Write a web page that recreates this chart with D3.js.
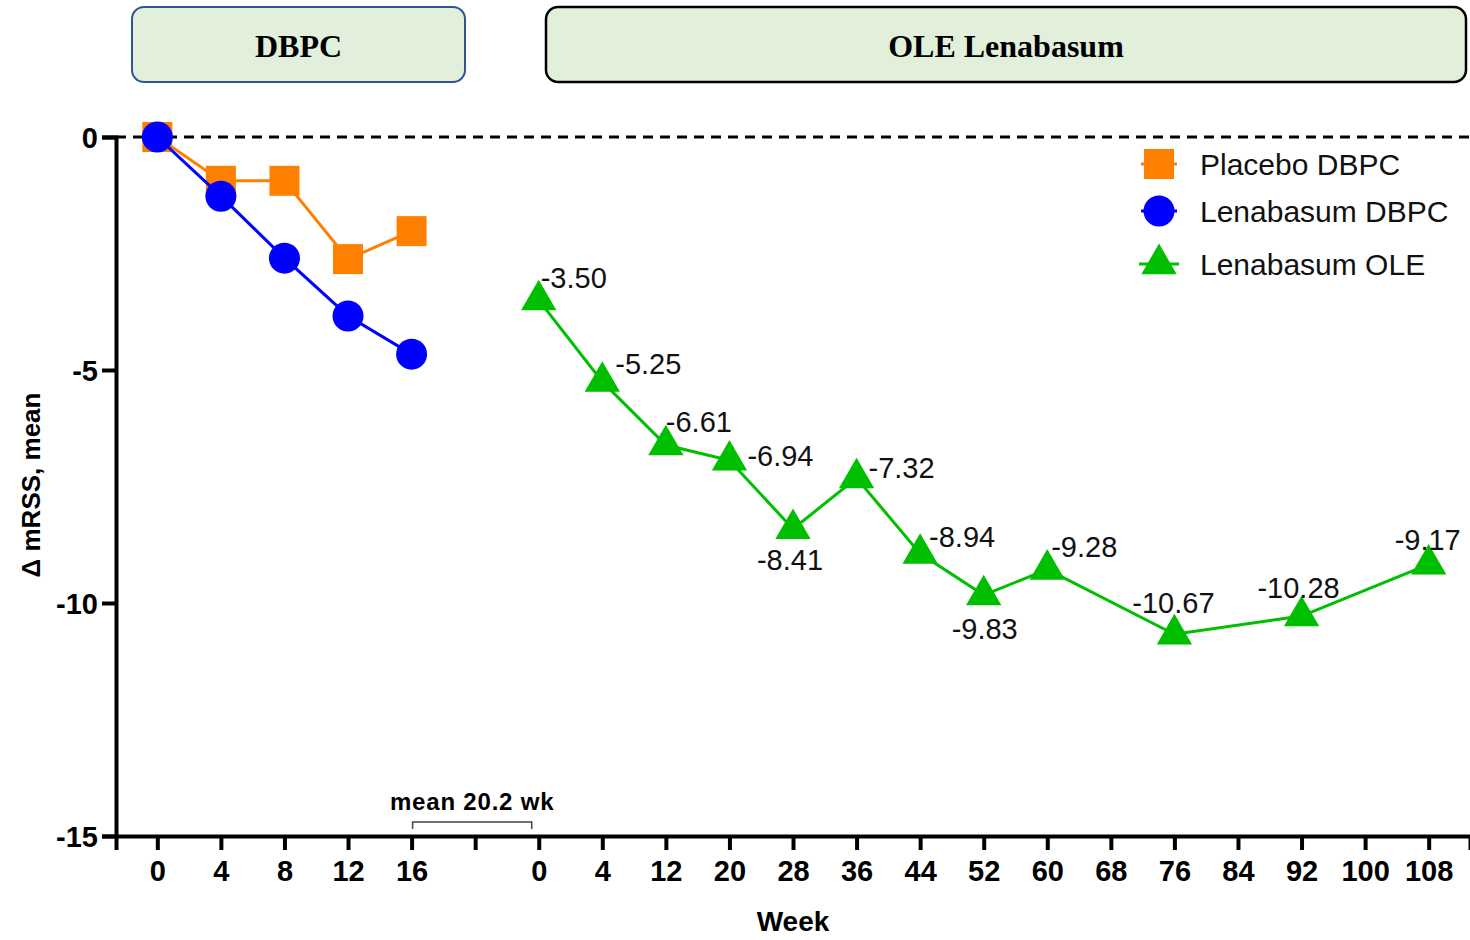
<!DOCTYPE html>
<html>
<head>
<meta charset="utf-8">
<script src="https://cdn.jsdelivr.net/npm/d3@7"></script>
<style>
  html, body { margin:0; padding:0; background:#fff; }
  svg { display:block; }
  .tick text { font-family: "Liberation Sans Narrow", "Liberation Sans", Arial, sans-serif; font-weight:bold; font-size:29px; fill:#000; }
  .lbl { font-family: "Liberation Sans", Arial, sans-serif; font-size:29px; fill:#111; }
  .leg { font-family: "Liberation Sans", Arial, sans-serif; font-size:30px; fill:#111; }
</style>
</head>
<body>
<div id="chart"></div>
<script>
/* mRSS change from baseline: DBPC phase then OLE lenabasum.
   x positions are categorical (one slot per tick), y is mean change. */

/* ---- data ---- */
const DBPC_WEEKS  = [0, 4, 8, 12, 16];
const PLACEBO     = [0, -0.94, -0.94, -2.62, -2.02];
const LENA_DBPC   = [0, -1.27, -2.60, -3.84, -4.66];
const OLE_WEEKS   = [0, 4, 12, 20, 28, 36, 44, 52, 60, 76, 92, 108];
const LENA_OLE    = [-3.50, -5.25, -6.61, -6.94, -8.41, -7.32, -8.94, -9.83, -9.28, -10.67, -10.28, -9.17];
const OLE_TICKS   = [0, 4, 12, 20, 28, 36, 44, 52, 60, 68, 76, 84, 92, 100, 108];
const Y_TICKS     = [0, -5, -10, -15];
const SERIES_NAMES = ["Placebo DBPC", "Lenabasum DBPC", "Lenabasum OLE"];

/* label offsets for OLE values (style only) */
const LABEL_OFF = [[35,-22],[46,-18],[33,-23],[51,-5],[-3,31],[45,-10],[42,-17],[1,34],[37,-23],[-1,-31],[-3,-28],[-1,-24]];

const W = 1470, H = 940;
const COL = { placebo:"#ff8000", lena:"#0000ff", ole:"#00bf00" };

/* categorical domain: DBPC weeks, one gap slot, then OLE weeks */
const KEYS = [...DBPC_WEEKS.map(w => "D"+w), "gap", ...OLE_TICKS.map(w => "O"+w)];
const tickLabel = k => k === "gap" ? "" : k.slice(1);

const x = d3.scalePoint().domain(KEYS).range([116, 1470]).padding(0.65);
const y = d3.scaleLinear().domain([-15, 0]).range([836, 137]);

const svg = d3.select("#chart").append("svg").attr("width", W).attr("height", H);

/* phase header boxes */
const headers = [
  {x:132, w:333, text:"DBPC", stroke:"#2f5597", sw:2},
  {x:546, w:920, text:"OLE Lenabasum", stroke:"#000", sw:2.5}
];
const hg = svg.selectAll("g.hdr").data(headers).enter().append("g").attr("class","hdr");
hg.append("rect").attr("x",d=>d.x).attr("y",7).attr("width",d=>d.w).attr("height",75)
  .attr("rx",12).attr("fill","#e2efda").attr("stroke",d=>d.stroke).attr("stroke-width",d=>d.sw);
hg.append("text").attr("x",d=>d.x+d.w/2).attr("y",57).attr("text-anchor","middle")
  .attr("font-family","'Liberation Serif','Times New Roman',serif").attr("font-weight","bold")
  .attr("font-size",32).text(d=>d.text);

/* reference line at 0 */
svg.append("line").attr("x1",116).attr("x2",1470).attr("y1",y(0)).attr("y2",y(0))
  .attr("stroke","#000").attr("stroke-width",3).attr("stroke-dasharray","10,7");

/* axes */
const xAxis = svg.append("g").attr("transform",`translate(0,${y(-15)})`)
  .call(d3.axisBottom(x).tickFormat(tickLabel).tickSizeOuter(0).tickSize(14).tickPadding(10));
const yAxis = svg.append("g").attr("transform",`translate(116,0)`)
  .call(d3.axisLeft(y).tickValues(Y_TICKS).tickFormat(d => String(d)).tickSizeOuter(0).tickSize(14).tickPadding(4));
[xAxis, yAxis].forEach(g => {
  g.select(".domain").attr("stroke","#000").attr("stroke-width",4);
  g.selectAll(".tick line").attr("stroke","#000").attr("stroke-width",4);
});
yAxis.selectAll(".tick text").attr("dy","0.36em");

/* axis titles */
svg.append("text").attr("x",793).attr("y",931).attr("text-anchor","middle")
  .attr("font-family","'Liberation Sans',Arial,sans-serif").attr("font-weight","bold").attr("font-size",28)
  .text("Week");
svg.append("text").attr("transform","translate(40,485) rotate(-90)").attr("text-anchor","middle")
  .attr("font-family","'Liberation Sans',Arial,sans-serif").attr("font-weight","bold").attr("font-size",26)
  .text("\u0394 mRSS, mean");

/* bracket for mean gap between phases */
const bx0 = x("D16") + 1, bx1 = x("O0") - 7;
svg.append("path").attr("d",`M${bx0},829V822H${bx1}V829`).attr("fill","none")
  .attr("stroke","#444").attr("stroke-width",1.5);
svg.append("text").attr("x",(bx0+bx1)/2).attr("y",810).attr("text-anchor","middle")
  .attr("font-family","'Liberation Sans',Arial,sans-serif").attr("font-weight","bold").attr("font-size",24)
  .attr("letter-spacing",0.8).text("mean 20.2 wk");

/* series */
const line = d3.line().x(d=>d.x).y(d=>d.y);
const placebo = DBPC_WEEKS.map((w,i)=>({x:x("D"+w), y:y(PLACEBO[i])}));
const lena    = DBPC_WEEKS.map((w,i)=>({x:x("D"+w), y:y(LENA_DBPC[i])}));
const ole     = OLE_WEEKS.map((w,i)=>({x:x("O"+w), y:y(LENA_OLE[i]), v:LENA_OLE[i], off:LABEL_OFF[i]}));

const symSquare = d3.symbol().type(d3.symbolSquare).size(900);
const symCircle = d3.symbol().type(d3.symbolCircle).size(Math.PI*15.5*15.5);
const symTri    = d3.symbol().type(d3.symbolTriangle).size(540);

function drawSeries(pts, color, sym){
  svg.append("path").datum(pts).attr("d",line).attr("fill","none").attr("stroke",color).attr("stroke-width",3);
  svg.append("g").selectAll("path").data(pts).enter().append("path")
    .attr("transform",d=>`translate(${d.x},${d.y})`).attr("d",sym).attr("fill",color);
}
drawSeries(placebo, COL.placebo, symSquare);
drawSeries(lena, COL.lena, symCircle);
drawSeries(ole, COL.ole, symTri);

/* value labels on OLE */
svg.append("g").selectAll("text").data(ole).enter().append("text").attr("class","lbl")
  .attr("x",d=>d.x+d.off[0]).attr("y",d=>d.y+d.off[1]).attr("dy","0.35em")
  .attr("text-anchor","middle").text(d=>d.v.toFixed(2));

/* legend */
const legend = [
  {name:SERIES_NAMES[0], color:COL.placebo, sym:symSquare, y:164, half:18},
  {name:SERIES_NAMES[1], color:COL.lena, sym:symCircle, y:211, half:18},
  {name:SERIES_NAMES[2], color:COL.ole, sym:symTri, y:264, half:20}
];
const lg = svg.append("g").selectAll("g").data(legend).enter().append("g")
  .attr("transform",d=>`translate(1159,${d.y})`);
lg.append("line").attr("x1",d=>-d.half).attr("x2",d=>d.half).attr("stroke",d=>d.color).attr("stroke-width",3);
lg.append("path").attr("d",d=>d.sym()).attr("fill",d=>d.color);
lg.append("text").attr("class","leg").attr("x",41).attr("dy","0.35em").text(d=>d.name);
</script>
</body>
</html>
